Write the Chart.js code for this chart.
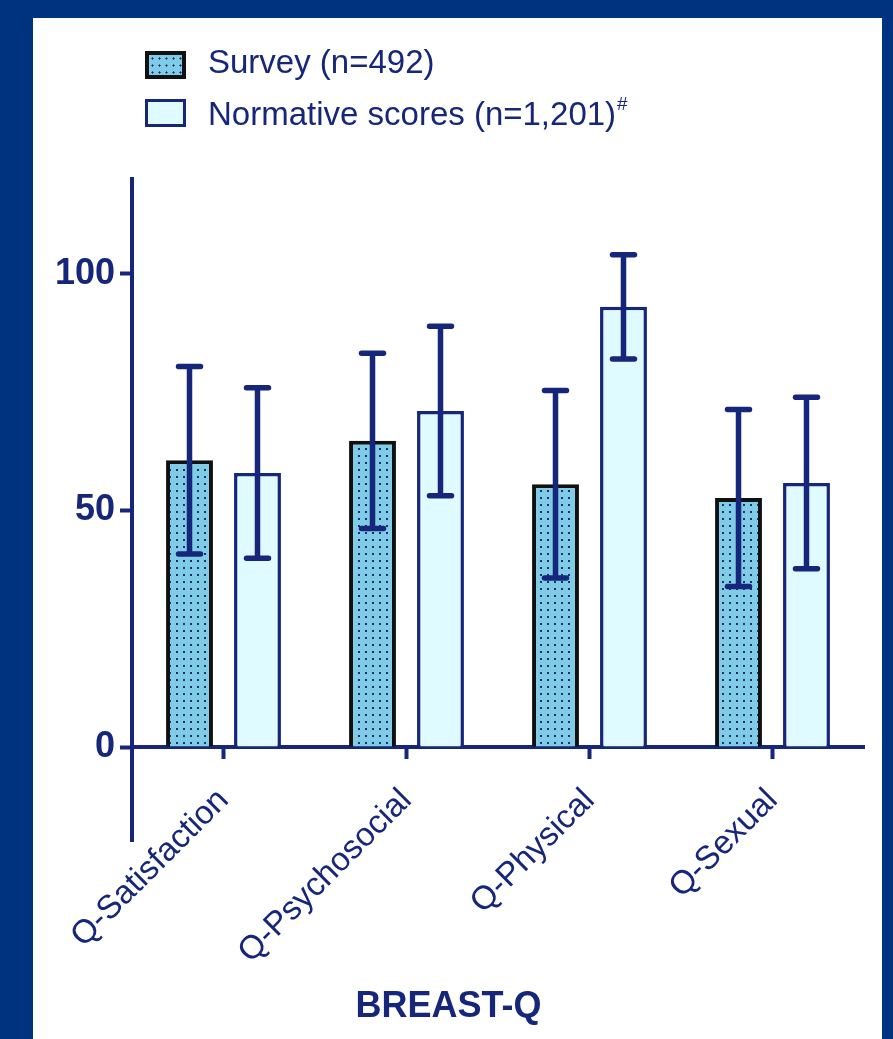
<!DOCTYPE html>
<html>
<head>
<meta charset="utf-8">
<script src="https://cdn.jsdelivr.net/npm/chart.js@4/dist/chart.umd.min.js"></script>
<style>
  html, body { margin: 0; padding: 0; }
  body { width: 893px; height: 1039px; background: #00337f; position: relative; overflow: hidden; }
  #panel { position: absolute; left: 33px; top: 18px; width: 849px; height: 1021px; background: #fff; }
  #grafico { position: absolute; left: 0; top: 0; }
  .leg-box { position: absolute; left: 112px; width: 41px; height: 28px; box-sizing: border-box; border: 3px solid #16267a; }
  .leg-txt { position: absolute; left: 175px; font-family: "Liberation Sans", Arial, sans-serif; font-size: 33px; line-height: 33px; color: #16267a; white-space: nowrap; }
  .leg-txt sup { font-size: 19px; vertical-align: baseline; position: relative; top: -15px; margin-left: 1px; }
</style>
</head>
<body>
<div id="panel">
  <canvas id="grafico" width="849" height="1021"></canvas>
  <div id="legenda"></div>
</div>
<script>
// Dados do gráfico
const categorias = ['Q-Satisfaction', 'Q-Psychosocial', 'Q-Physical', 'Q-Sexual'];
const nomesSeries = ['Survey (n=492)', 'Normative scores (n=1,201)'];
const marcasSeries = ['', '#'];
const mediaSurvey = [60.6, 64.7, 55.5, 52.6];
const dpSurvey = [19.8, 18.5, 19.8, 18.7];
const mediaNormativa = [57.9, 71.0, 93.0, 55.8];
const dpNormativa = [18.0, 17.9, 11.0, 18.1];
const ticksY = [0, 50, 100];
const tituloX = 'BREAST-Q';

const AZUL = '#16267a';
const FONTE = '"Liberation Sans", Arial, sans-serif';

// Padrão pontilhado das barras do survey
function criarPadrao() {
    const c = document.createElement('canvas');
    c.width = 7; c.height = 7;
    const g = c.getContext('2d');
    g.fillStyle = '#80cbe6';
    g.fillRect(0, 0, 7, 7);
    g.fillStyle = '#1b2f6e';
    g.fillRect(3, 3, 2, 2);
    return g.createPattern(c, 'repeat');
}

// Legenda em HTML
function montarLegenda() {
    const el = document.getElementById('legenda');
    const fundos = ['#80cbe6', '#e0fbff'];
    const bordas = ['#111', AZUL];
    const topos = [33, 81];
    const toposTxt = [27, 79];
    nomesSeries.forEach((nome, i) => {
        const box = document.createElement('div');
        box.className = 'leg-box';
        box.style.top = topos[i] + 'px';
        box.style.borderColor = bordas[i];
        box.style.borderWidth = i === 0 ? '4px' : '3px';
        box.style.background = fundos[i];
        if (i === 0) {
            box.style.backgroundImage = 'radial-gradient(circle, #1b2f6e 0.9px, transparent 1.2px)';
            box.style.backgroundSize = '7px 7px';
        }
        el.appendChild(box);
        const t = document.createElement('div');
        t.className = 'leg-txt';
        t.style.top = toposTxt[i] + 'px';
        t.innerHTML = nome + (marcasSeries[i] ? '<sup>' + marcasSeries[i] + '</sup>' : '');
        el.appendChild(t);
    });
}

// Barras de erro (média ± DP)
const barrasErro = {
    id: 'barrasErro',
    afterDatasetsDraw(chart) {
        const ctx = chart.ctx;
        const y = chart.scales.y;
        const dps = [dpSurvey, dpNormativa];
        ctx.save();
        ctx.strokeStyle = AZUL;
        ctx.lineWidth = 5.5;
        chart.data.datasets.forEach((ds, i) => {
            const meta = chart.getDatasetMeta(i);
            meta.data.forEach((bar, j) => {
                const m = ds.data[j];
                const yAlto = y.getPixelForValue(m + dps[i][j]);
                const yBaixo = y.getPixelForValue(m - dps[i][j]);
                ctx.lineCap = 'butt';
                ctx.beginPath();
                ctx.moveTo(bar.x, yAlto);
                ctx.lineTo(bar.x, yBaixo);
                ctx.stroke();
                ctx.lineCap = 'round';
                ctx.beginPath();
                ctx.moveTo(bar.x - 11, yAlto);
                ctx.lineTo(bar.x + 11, yAlto);
                ctx.moveTo(bar.x - 11, yBaixo);
                ctx.lineTo(bar.x + 11, yBaixo);
                ctx.stroke();
            });
        });
        ctx.restore();
    }
};

function inicializarGrafico() {
    const ctx = document.getElementById('grafico').getContext('2d');
    new Chart(ctx, {
        type: 'bar',
        data: {
            labels: categorias,
            datasets: [{
                label: nomesSeries[0],
                data: mediaSurvey,
                backgroundColor: criarPadrao(),
                borderColor: '#111',
                borderWidth: 4,
                barPercentage: 0.69,
                categoryPercentage: 0.743
            }, {
                label: nomesSeries[1],
                data: mediaNormativa,
                backgroundColor: '#e0fbff',
                borderColor: AZUL,
                borderWidth: 3.5,
                barPercentage: 0.69,
                categoryPercentage: 0.743
            }]
        },
        options: {
            responsive: false,
            animation: false,
            layout: { padding: { top: 161, right: 18, bottom: 0, left: 0 } },
            plugins: {
                legend: { display: false },
                tooltip: { enabled: false },
                title: {
                    display: true,
                    text: tituloX,
                    position: 'bottom',
                    color: AZUL,
                    font: { family: FONTE, size: 36, weight: 'bold' },
                    padding: { top: 144, bottom: 10 }
                }
            },
            scales: {
                x: {
                    position: { y: 0 },
                    grid: { offset: false, drawOnChartArea: false, tickLength: 10, tickWidth: 4, tickColor: AZUL },
                    border: { color: AZUL, width: 4 },
                    ticks: {
                        color: AZUL,
                        font: { family: FONTE, size: 33 },
                        minRotation: 45,
                        maxRotation: 45,
                        autoSkip: false,
                        padding: 24
                    }
                },
                y: {
                    min: -20,
                    max: 120,
                    afterFit: (s) => { s.width = 99; },
                    afterBuildTicks: (s) => { s.ticks = ticksY.map(v => ({ value: v })); },
                    grid: { drawOnChartArea: false, tickLength: 12, tickWidth: 4, tickColor: AZUL },
                    border: { color: AZUL, width: 4 },
                    ticks: {
                        color: AZUL,
                        font: { family: FONTE, size: 36, weight: 'bold' },
                        padding: 5
                    }
                }
            }
        },
        plugins: [barrasErro]
    });
}

document.addEventListener('DOMContentLoaded', () => {
    montarLegenda();
    inicializarGrafico();
});
</script>
</body>
</html>
